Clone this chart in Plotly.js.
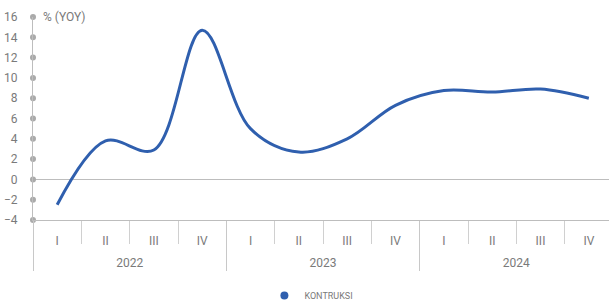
<!DOCTYPE html>
<html>
<head>
<meta charset="utf-8">
<script src="https://cdn.plot.ly/plotly-3.0.1.min.js"></script>
<style>
html,body{margin:0;padding:0;overflow:hidden;background:#fff;}
#chart{width:613px;height:302px;}
</style>
</head>
<body>
<div id="chart"></div>
<script>
const years = ["2022","2022","2022","2022","2023","2023","2023","2023","2024","2024","2024","2024"];
const quarters = ["I","II","III","IV","I","II","III","IV","I","II","III","IV"];
const konstruksi = [-2.5, 3.8, 2.9, 14.7, 5.0, 2.7, 4.0, 7.3, 8.75, 8.6, 8.9, 8.0];
const yTicks = [-4,-2,0,2,4,6,8,10,12,14,16];
const seriesName = "KONTRUKSI";
const unitLabel = "% (YOY)";

const grey = "#7a7a7a";
const lineGrey = "#bdbdbd";
const blue = "#2f5fae";
const fontFam = "Roboto, 'DejaVu Sans Condensed', sans-serif";

// outer-level labels, pushed one line down so they sit under the quarter row
const yearLabels = years.map(y => "<br>" + y);

const traces = [
  {
    type: "scatter", mode: "lines",
    x: [yearLabels, quarters], y: konstruksi,
    line: {color: blue, width: 3, shape: "spline", smoothing: 1.0},
    showlegend: false, hoverinfo: "skip"
  },
  {
    type: "scatter", mode: "markers",
    x: yTicks.map(() => 0), y: yTicks,
    xaxis: "x2",
    marker: {color: "#aaaaaa", size: 6},
    cliponaxis: false, showlegend: false, hoverinfo: "skip"
  },
  {
    type: "scatter", mode: "markers",
    x: [null], y: [null], name: seriesName,
    marker: {color: blue, size: 8}
  }
];

const layout = {
  width: 613, height: 302,
  margin: {l: 33, r: 0, t: 17, b: 82, autoexpand: false},
  paper_bgcolor: "#fff", plot_bgcolor: "#fff",
  font: {family: fontFam, color: grey, size: 12},
  xaxis: {
    type: "multicategory", range: [-0.5, 11.5], automargin: false,
    showline: true, linecolor: lineGrey, linewidth: 1,
    ticks: "outside", ticklen: 23, tickcolor: "#d0d0d0", tickwidth: 1,
    ticklabelstandoff: 10,
    tickfont: {family: fontFam, color: grey, size: 12},
    showdividers: true, dividercolor: "#c8c8c8", dividerwidth: 1,
    showgrid: false, zeroline: false, fixedrange: true
  },
  xaxis2: {
    overlaying: "x", range: [0, 1], visible: false, fixedrange: true
  },
  yaxis: {
    range: [-4, 16], tickvals: yTicks, automargin: false,
    showline: true, linecolor: lineGrey, linewidth: 1,
    ticks: "outside", ticklen: 12, tickcolor: "rgba(0,0,0,0)",
    tickfont: {family: fontFam, color: grey, size: 12},
    showgrid: false, zeroline: true, zerolinecolor: lineGrey, zerolinewidth: 1,
    fixedrange: true
  },
  showlegend: true,
  legend: {
    orientation: "h", x: 0.48, xanchor: "center", y: -0.3, yanchor: "top",
    font: {family: fontFam, color: grey, size: 9},
    itemwidth: 30
  },
  annotations: [{
    text: unitLabel, xref: "paper", yref: "y", x: 0, y: 16,
    xanchor: "left", yanchor: "middle", xshift: 8, showarrow: false,
    font: {family: fontFam, color: grey, size: 12}
  }]
};

Plotly.newPlot("chart", traces, layout, {displayModeBar: false, staticPlot: true});
</script>
</body>
</html>
